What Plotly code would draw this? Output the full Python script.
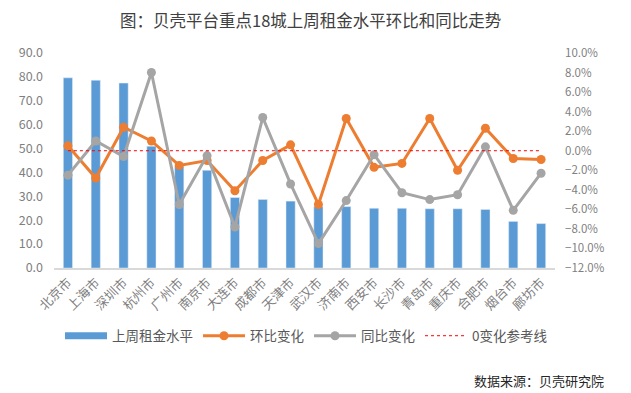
import plotly.graph_objects as go

cities = ["北京市", "上海市", "深圳市", "杭州市", "广州市", "南京市", "大连市", "成都市", "天津市",
          "武汉市", "济南市", "西安市", "长沙市", "青岛市", "重庆市", "合肥市", "烟台市", "廊坊市"]
rent_level = [79.6, 78.6, 77.4, 51.0, 42.5, 40.9, 29.5, 28.7, 28.0,
              25.7, 25.7, 25.0, 25.0, 24.8, 24.8, 24.5, 19.5, 18.6]
mom_change = [0.5, -2.8, 2.4, 1.0, -1.5, -1.0, -4.1, -1.0, 0.6,
              -5.5, 3.3, -1.7, -1.3, 3.3, -2.0, 2.3, -0.8, -0.9]
yoy_change = [-2.5, 1.0, -0.6, 8.0, -5.5, -0.5, -7.8, 3.4, -3.4,
              -9.5, -5.1, -0.4, -4.3, -5.0, -4.5, 0.4, -6.1, -2.3]
zero_ref = [0.0] * len(cities)

FONT = "Noto Sans CJK SC"
GRAY = "#7f7f7f"
BLUE = "#5B9BD5"

fig = go.Figure()
fig.add_trace(go.Bar(x=cities, y=rent_level, name="上周租金水平", marker_color=BLUE,
                     width=0.33, yaxis="y", showlegend=False))
# legend-only entry so the bar key is drawn as a wide rectangle like the reference
fig.add_trace(go.Scatter(x=[None], y=[None], name="上周租金水平", mode="lines",
                         line=dict(color=BLUE, width=7), yaxis="y"))
fig.add_trace(go.Scatter(x=cities, y=mom_change, name="环比变化", mode="lines+markers",
                         line=dict(color="#ED7D31", width=3), marker=dict(size=9, color="#ED7D31"),
                         yaxis="y2"))
fig.add_trace(go.Scatter(x=cities, y=yoy_change, name="同比变化", mode="lines+markers",
                         line=dict(color="#A5A5A5", width=3), marker=dict(size=9, color="#A5A5A5"),
                         yaxis="y2"))
fig.add_trace(go.Scatter(x=cities, y=zero_ref, name="0变化参考线", mode="lines",
                         line=dict(color="#FF0000", width=1, dash="dot"), yaxis="y2"))

fig.update_layout(
    width=631, height=393,
    margin=dict(l=54, r=76, t=53, b=125, autoexpand=False),
    paper_bgcolor="white", plot_bgcolor="white",
    font=dict(family=FONT, color=GRAY, size=12),
    showlegend=True,
    legend=dict(orientation="h", x=0.012, xanchor="left", y=-0.316, yanchor="middle",
                font=dict(size=13.5, color="#595959"), itemwidth=42, traceorder="normal",
                bgcolor="rgba(0,0,0,0)"),
    xaxis=dict(type="category", range=[-0.5, len(cities) - 0.5], tickangle=-45,
               tickfont=dict(size=13, color=GRAY), showline=True,
               linecolor="#D9D9D9", linewidth=1.5, ticks="", showgrid=False, automargin=False),
    yaxis=dict(range=[0, 90], dtick=10, tickformat=".1f", showgrid=False, zeroline=False,
               tickfont=dict(size=12.5, color=GRAY), automargin=False, ticklabelstandoff=10),
    yaxis2=dict(range=[-12, 10], dtick=2, tickformat=".1f", ticksuffix="%", overlaying="y",
                side="right", showgrid=False, zeroline=False, tickfont=dict(size=11.5, color=GRAY),
                automargin=False, ticklabelstandoff=9),
)

fig.add_annotation(text="图：贝壳平台重点18城上周租金水平环比和同比走势", xref="paper", yref="paper",
                   x=(310 - 54) / 501, y=(268 - 20) / 215, xanchor="center", yanchor="middle",
                   showarrow=False, font=dict(size=16.5, color="#404040", family=FONT))
fig.add_annotation(text="数据来源：贝壳研究院", xref="paper", yref="paper",
                   x=(606 - 54) / 501, y=(268 - 380) / 215, xanchor="right", yanchor="middle",
                   showarrow=False, font=dict(size=13, color="#262626", family=FONT))

fig.write_html("out.html", config={"displayModeBar": False},
               post_script="document.body.style.margin='0';document.body.style.padding='0';")
